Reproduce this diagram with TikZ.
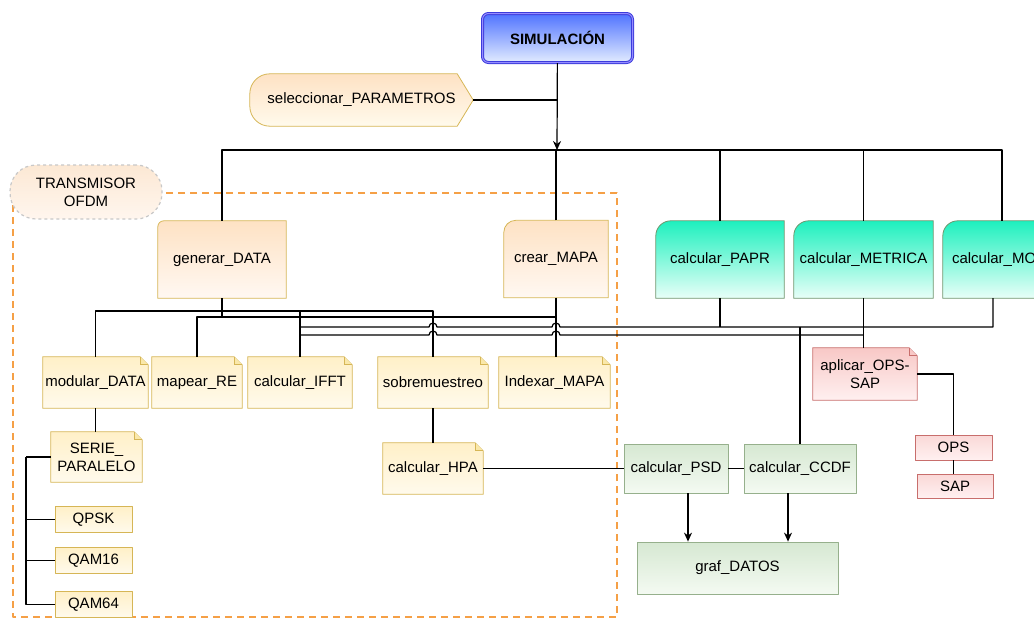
\documentclass[tikz,border=0pt]{standalone}
\usepackage{fontspec}
\setmainfont{Liberation Sans}
\usetikzlibrary{arrows,arrows.meta,backgrounds,calc}

\definecolor{notebd}{RGB}{214,182,86}
\definecolor{notetop}{RGB}{255,240,200}
\definecolor{notebot}{RGB}{255,250,236}
\definecolor{notefold}{RGB}{250,232,170}
\definecolor{orngtop}{RGB}{254,226,196}
\definecolor{orngbot}{RGB}{255,248,242}
\definecolor{tealbd}{RGB}{110,150,110}
\definecolor{tealtop}{RGB}{30,240,190}
\definecolor{tealbot}{RGB}{232,255,248}
\definecolor{pinkbd}{RGB}{200,110,108}
\definecolor{pinktop}{RGB}{248,200,198}
\definecolor{pinkbot}{RGB}{255,240,240}
\definecolor{grnbd}{RGB}{150,176,140}
\definecolor{grntop}{RGB}{214,232,210}
\definecolor{grnbot}{RGB}{244,250,242}
\definecolor{ofdmcol}{RGB}{245,160,70}

\tikzset{
  basebox/.style={inner sep=2pt, align=center},
  notebox/.style={basebox, rectangle, minimum height=51pt},
  noteshape/.style={draw=notebd, line width=0.8pt, top color=notetop, bottom color=notebot},
  notefold/.style={draw=notebd, line width=0.8pt, fill=notefold},
  pinkshape/.style={draw=pinkbd, line width=0.8pt, top color=pinktop, bottom color=pinkbot},
  pinkfold/.style={draw=pinkbd, line width=0.8pt, fill=pinktop},
  modbox/.style={basebox, rectangle, draw=notebd, line width=0.8pt, top color=notetop,
    bottom color=notebot, minimum width=77pt, minimum height=26pt},
  opsbox/.style={basebox, rectangle, draw=pinkbd, line width=0.8pt, top color=pinktop!70,
    bottom color=pinkbot, minimum width=77pt, minimum height=25pt},
  psdbox/.style={basebox, rectangle, draw=grnbd, line width=0.8pt, top color=grntop,
    bottom color=grnbot, minimum height=49pt},
  cardbox/.style={basebox, rectangle, minimum height=77pt},
  orngcard/.style={draw=notebd, line width=0.8pt, top color=orngtop, bottom color=orngbot},
  tealcard/.style={draw=tealbd, line width=0.8pt, top color=tealtop, bottom color=tealbot},
  parshape/.style={draw=notebd, line width=0.8pt, top color=orngtop, bottom color=notebot},
  simbox/.style={basebox, rectangle, rounded corners=6pt, draw={rgb,255:red,60;green,60;blue,220},
    double={rgb,255:red,150;green,140;blue,255}, double distance=1pt, line width=1pt,
    top color={rgb,255:red,80;green,115;blue,255}, bottom color={rgb,255:red,226;green,236;blue,255},
    minimum width=150pt, minimum height=49pt, font=\fontsize{15}{18}\selectfont\bfseries},
  tlabel/.style={basebox, rectangle, rounded corners=26pt, draw={rgb,255:red,200;green,200;blue,200},
    dash pattern=on 3pt off 3pt, line width=1.2pt,
    top color={rgb,255:red,252;green,232;blue,212}, bottom color={rgb,255:red,255;green,246;blue,238},
    minimum width=152pt, minimum height=54pt},
  ofdm/.style={draw=ofdmcol, line width=1.8pt, dash pattern=on 7pt off 5pt},
  wire/.style={line width=1.2pt}
}

\begin{document}
\begin{tikzpicture}[x=1pt,y=-1pt,>={Stealth[length=9pt,width=8pt]},line join=round,
  font=\fontsize{15}{18}\selectfont]
\useasboundingbox (0,0) rectangle (1034,619);
\clip (0,0) rectangle (1034,619);

% bloque del transmisor
\draw[ofdm] (13,193) rectangle (617,617);
\node[tlabel] (tx) at (86,192) {TRANSMISOR\\OFDM};

% cabecera
\node[simbox] (sim) at (557.5,38) {SIMULACIÓN};
\node[basebox, minimum width=223pt, minimum height=52pt] (par) at (361.5,100) {seleccionar\_PARAMETROS};

% primer nivel
\node[cardbox, minimum width=128pt] (gen) at (222,259.5) {generar\_DATA};
\node[cardbox, minimum width=104pt] (mapa) at (556,259) {crear\_MAPA};
\node[cardbox, minimum width=128pt] (papr) at (720,259.5) {calcular\_PAPR};
\node[cardbox, minimum width=139pt] (metrica) at (863.5,259.5) {calcular\_METRICA};
\node[cardbox, minimum width=118pt, text width=100pt, align=left] (mo) at (1002,259.5) {calcular\_MO};

% segundo nivel
\node[notebox, minimum width=105pt] (modular) at (95.5,382.5) {modular\_DATA};
\node[notebox, minimum width=90pt] (mapear) at (197,382.5) {mapear\_RE};
\node[notebox, minimum width=104pt] (ifft) at (300,382.5) {calcular\_IFFT};
\node[notebox, minimum width=110pt] (sobre) at (433,382.5) {sobremuestreo};
\node[notebox, minimum width=111pt] (indexar) at (554.5,382.5) {Indexar\_MAPA};
\node[notebox, minimum width=91pt, minimum height=50pt] (serie) at (96.5,457) {SERIE\_\\PARALELO};
\node[notebox, minimum width=100pt] (hpa) at (433,468.5) {calcular\_HPA};
\node[notebox, minimum width=104pt, minimum height=52pt] (aplicar) at (865,374) {aplicar\_OPS-\\SAP};

\begin{scope}[on background layer]
  \path[parshape] ([xshift=-16pt]par.north east) -- (par.east) -- ([xshift=-16pt]par.south east)
    [rounded corners=20pt] -- (par.south west) -- (par.north west) [sharp corners] -- cycle;
  \foreach \n/\rad/\kind in {gen/6/orng,mapa/12/orng,papr/15/teal,metrica/15/teal,mo/15/teal}
    \path[\kind card] (\n.south west) [rounded corners=\rad pt] -- (\n.north west)
      [sharp corners] -- (\n.north east) -- (\n.south east) -- cycle;
  % notas con la esquina doblada
  \foreach \n/\kind in {modular/note,mapear/note,ifft/note,sobre/note,indexar/note,
      serie/note,hpa/note,aplicar/pink}{
    \path[\kind shape] (\n.south west) -- (\n.north west) -- ([xshift=-8pt]\n.north east)
      -- ([yshift=-8pt]\n.north east) -- (\n.south east) -- cycle;
    \draw[\kind fold] ([xshift=-8pt]\n.north east) -- ([xshift=-8pt,yshift=-8pt]\n.north east)
      -- ([yshift=-8pt]\n.north east);
  }
\end{scope}

\foreach \y/\t in {519.5/QPSK,560.5/QAM16,604.5/QAM64}
  \node[modbox] (\t) at (93.5,\y) {\t};

\node[opsbox] (ops) at (953.5,447.5) {OPS};
\node[opsbox, minimum width=76pt, minimum height=24pt] (sap) at (955,486) {SAP};

\node[psdbox, minimum width=104pt] (psd) at (676,468.5) {calcular\_PSD};
\node[psdbox, minimum width=112pt] (ccdf) at (800,468.5) {calcular\_CCDF};
\node[psdbox, minimum width=201pt, minimum height=52pt] (graf) at (737.5,568) {graf\_DATOS};

% conexiones
\coordinate (bus) at (557,150);
\draw[wire,->] (sim) -- (bus);
\draw[wire] (par.east) -- (par.east -| sim.south);
\draw[wire] (gen.north) |- (bus) -| (mo.north);
\draw[wire] (mapa.north) -- (mapa.north |- bus);
\draw[wire] (papr.north) -- (papr.north |- bus);
\draw[wire] (metrica.north) -- (metrica.north |- bus);

\coordinate (g1) at (222,311);
\coordinate (g2) at (222,317);
\draw[wire] (gen.south) -- (g2);
\draw[wire] (modular.north) |- (g1) -| (sobre.north);
\draw[wire] (ifft.north) -- (ifft.north |- g1);
\draw[wire] (mapear.north) |- (mapa.south |- g2) -- (mapa.south);
\draw[wire] (mapa.south) -- (mapa.south |- indexar.north);

% saltos sobre los verticales
\draw[wire] (ifft.north |- 0,327) -- (429,327) arc[start angle=180,end angle=0,radius=4pt]
  -- (552,327) arc[start angle=180,end angle=0,radius=4pt] -| ([xshift=-9pt]mo.south);
\draw[wire] (ifft.north |- 0,335) -- (429,335) arc[start angle=180,end angle=0,radius=4pt]
  -- (552,335) arc[start angle=180,end angle=0,radius=4pt] -- (metrica.south |- 0,335);
\draw[wire] (papr.south) -- (papr.south |- 0,327);
\draw[wire] (metrica.south) -- (metrica.south |- aplicar.north);
\draw[wire] (ccdf.north) -- (ccdf.north |- 0,327);

\draw[wire] (sobre.south) -- (hpa.north);
\draw[wire] (hpa.east) -- (psd.west);
\draw[wire] (psd.east) -- (ccdf.west);
\draw[wire,->] ([xshift=12pt]psd.south) -- ([xshift=12pt]psd.south |- graf.north);
\draw[wire,->] ([xshift=-12pt]ccdf.south) -- ([xshift=-12pt]ccdf.south |- graf.north);
\draw[wire] (aplicar.east) -| (ops.north);
\draw[wire] (ops.south) -- (ops.south |- sap.north);

\draw[wire] (modular.south) -- (modular.south |- serie.north);
\coordinate (rail) at (26,457);
\draw[line width=2pt] (serie.west) -- (rail);
\draw[wire] (rail) |- (QAM64.west);
\draw[wire] (QPSK.west) -- (QPSK.west -| rail);
\draw[wire] (QAM16.west) -- (QAM16.west -| rail);
\end{tikzpicture}
\end{document}
